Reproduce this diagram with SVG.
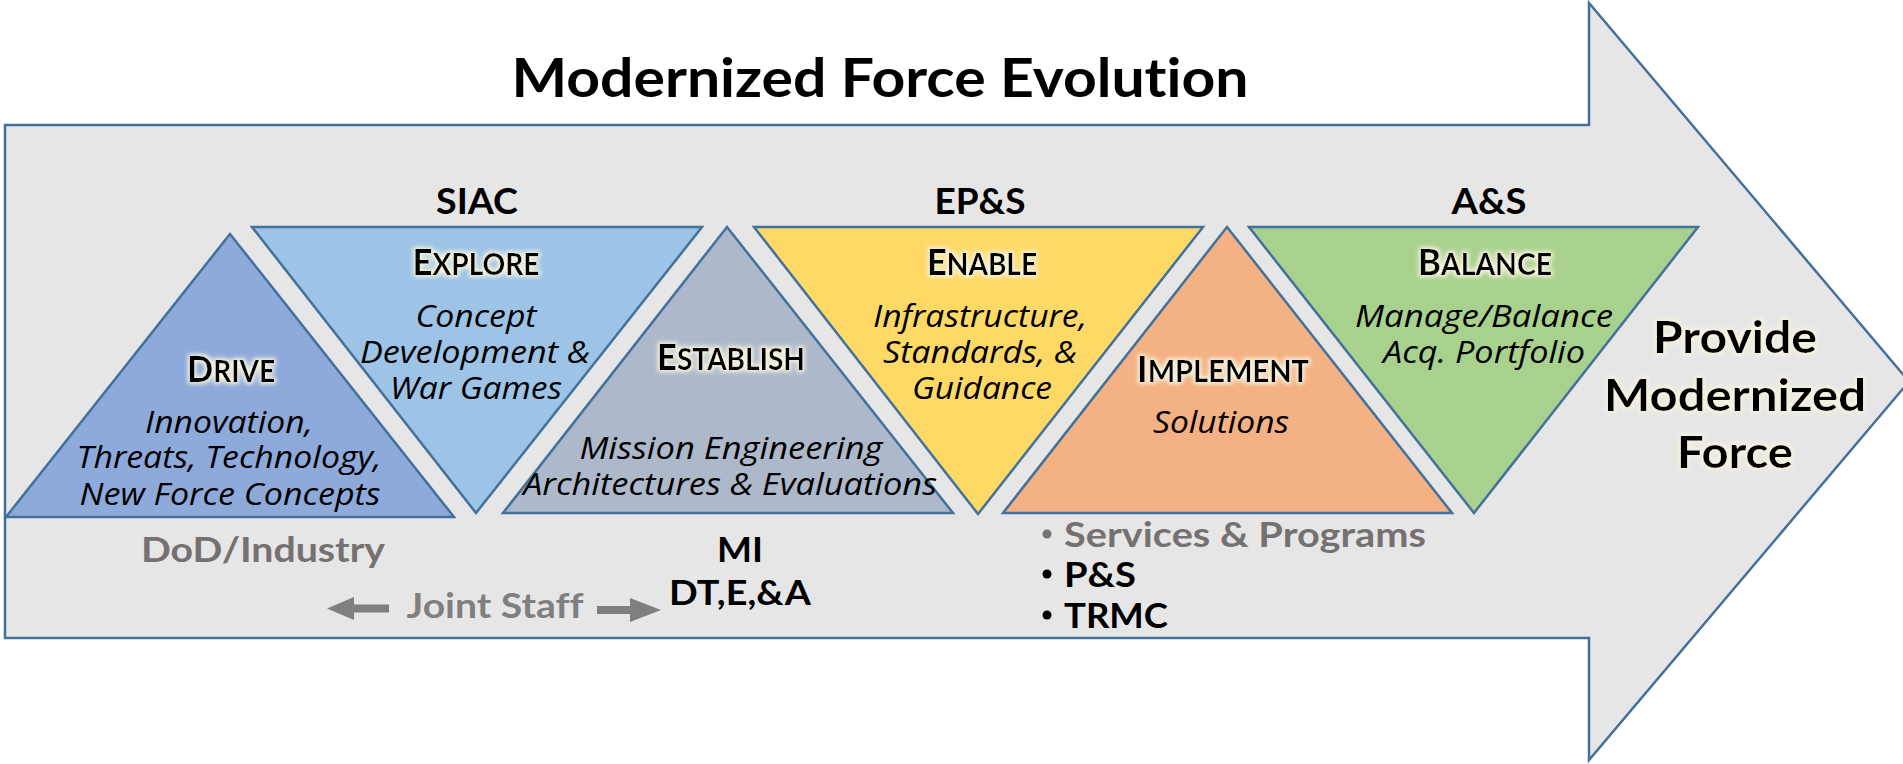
<svg xmlns="http://www.w3.org/2000/svg" width="1903" height="764" viewBox="0 0 1903 764">
<defs>
<style>
text{font-variant-ligatures:none}
.shape{stroke:#41719C;stroke-width:2.5;stroke-linejoin:miter}
.b{font-family:Lato,"Open Sans","Liberation Sans",sans-serif;font-weight:bold;text-anchor:middle}
.hd{font-family:Lato,"Open Sans","Liberation Sans",sans-serif;font-weight:bold;text-anchor:middle;fill:#000}
.it{font-family:"Open Sans",Lato,"Liberation Sans",sans-serif;font-style:italic;font-size:31px;text-anchor:middle;fill:#000}
.gray{fill:#767171}
</style>
<filter id="glow" x="-20%" y="-50%" width="140%" height="200%">
<feMorphology in="SourceAlpha" operator="dilate" radius="2" result="d"/>
<feGaussianBlur in="d" stdDeviation="2.2" result="bl"/>
<feFlood flood-color="#f6f3de"/>
<feComposite in2="bl" operator="in" result="g"/>
<feMerge><feMergeNode in="g"/><feMergeNode in="SourceGraphic"/></feMerge>
</filter>
</defs>
<rect width="1903" height="764" fill="#fff"/>
<g id="big-arrow">
<path class="shape" fill="#e7e6e6" d="M5,125 L1589,125 L1589,3 L1909,381.5 L1589,760 L1589,638 L5,638 Z"/>
</g>
<text class="b" x="880" y="97" font-size="53" textLength="737" lengthAdjust="spacingAndGlyphs">Modernized Force Evolution</text>
<text class="b" x="477" y="214" font-size="36" textLength="82" lengthAdjust="spacingAndGlyphs">SIAC</text>
<text class="b" x="980" y="214" font-size="36" textLength="91" lengthAdjust="spacingAndGlyphs">EP&amp;S</text>
<text class="b" x="1489" y="214" font-size="36" textLength="75" lengthAdjust="spacingAndGlyphs">A&amp;S</text>

<g id="drive">
<polygon class="shape" fill="#8EAADB" points="230,234 454,517 6,517"/>
<text class="hd" x="231" y="382" filter="url(#glow)" textLength="88" lengthAdjust="spacingAndGlyphs"><tspan font-size="37">D</tspan><tspan font-size="30">RIVE</tspan></text>
<text class="it" x="229" y="433" textLength="168" lengthAdjust="spacingAndGlyphs">Innovation,</text>
<text class="it" x="229" y="468" textLength="305" lengthAdjust="spacingAndGlyphs">Threats, Technology,</text>
<text class="it" x="230" y="505" textLength="301" lengthAdjust="spacingAndGlyphs">New Force Concepts</text>
</g>

<g id="explore">
<polygon class="shape" fill="#9DC3E6" points="252,227 702,227 476,513"/>
<text class="hd" x="476" y="275" filter="url(#glow)" textLength="127" lengthAdjust="spacingAndGlyphs"><tspan font-size="37">E</tspan><tspan font-size="30">XPLORE</tspan></text>
<text class="it" x="476" y="327" textLength="121" lengthAdjust="spacingAndGlyphs">Concept</text>
<text class="it" x="475" y="363" textLength="230" lengthAdjust="spacingAndGlyphs">Development &amp;</text>
<text class="it" x="476" y="399" textLength="172" lengthAdjust="spacingAndGlyphs">War Games</text>
</g>

<g id="establish">
<polygon class="shape" fill="#ADB9CA" points="727,227 953,513 503,513"/>
<text class="hd" x="731" y="370" filter="url(#glow)" textLength="148" lengthAdjust="spacingAndGlyphs"><tspan font-size="37">E</tspan><tspan font-size="30">STABLISH</tspan></text>
<text class="it" x="731" y="459" textLength="303" lengthAdjust="spacingAndGlyphs">Mission Engineering</text>
<text class="it" x="730" y="495" textLength="414" lengthAdjust="spacingAndGlyphs">Architectures &amp; Evaluations</text>
</g>

<g id="enable">
<polygon class="shape" fill="#FFD966" points="754,227 1203,227 978,514"/>
<text class="hd" x="982" y="275" filter="url(#glow)" textLength="110" lengthAdjust="spacingAndGlyphs"><tspan font-size="37">E</tspan><tspan font-size="30">NABLE</tspan></text>
<text class="it" x="980" y="327" textLength="214" lengthAdjust="spacingAndGlyphs">Infrastructure,</text>
<text class="it" x="980" y="363" textLength="194" lengthAdjust="spacingAndGlyphs">Standards, &amp;</text>
<text class="it" x="982" y="399" textLength="140" lengthAdjust="spacingAndGlyphs">Guidance</text>
</g>

<g id="implement">
<polygon class="shape" fill="#F4B183" points="1227,227 1452,513 1003,513"/>
<text class="hd" x="1223" y="382" filter="url(#glow)" textLength="172" lengthAdjust="spacingAndGlyphs"><tspan font-size="37">I</tspan><tspan font-size="30">MPLEMENT</tspan></text>
<text class="it" x="1221" y="433" textLength="136" lengthAdjust="spacingAndGlyphs">Solutions</text>
</g>

<g id="balance">
<polygon class="shape" fill="#A9D18E" points="1249,227 1698,227 1474,513"/>
<text class="hd" x="1485" y="275" filter="url(#glow)" textLength="134" lengthAdjust="spacingAndGlyphs"><tspan font-size="37">B</tspan><tspan font-size="30">ALANCE</tspan></text>
<text class="it" x="1484" y="327" textLength="258" lengthAdjust="spacingAndGlyphs">Manage/Balance</text>
<text class="it" x="1484" y="363" textLength="202" lengthAdjust="spacingAndGlyphs">Acq. Portfolio</text>
</g>

<g id="provide" filter="url(#glow)">
<text class="b" x="1735" y="353" font-size="43" textLength="164" lengthAdjust="spacingAndGlyphs">Provide</text>
<text class="b" x="1735" y="411" font-size="43" textLength="262" lengthAdjust="spacingAndGlyphs">Modernized</text>
<text class="b" x="1735" y="468" font-size="43" textLength="116" lengthAdjust="spacingAndGlyphs">Force</text>
</g>

<g id="dod-industry">
<text class="b gray" x="263" y="562" font-size="34" textLength="244" lengthAdjust="spacingAndGlyphs">DoD/Industry</text>
</g>

<g id="mi-dtea">
<text class="b" x="740" y="562" font-size="35" textLength="46" lengthAdjust="spacingAndGlyphs">MI</text>
<text class="b" x="740" y="605" font-size="35" textLength="142" lengthAdjust="spacingAndGlyphs">DT,E,&amp;A</text>
</g>

<g id="joint-staff">
<text class="b" x="495" y="618" font-size="35" fill="#7f7f7f" textLength="177" lengthAdjust="spacingAndGlyphs">Joint Staff</text>
</g>

<g id="connectors" fill="#7f7f7f">
<polygon points="327,608.5 354,597 354,604.5 389,604.5 389,612.5 354,612.5 354,620"/>
<polygon points="661,610 630,598 630,606 597,606 597,614 630,614 630,622"/>
</g>

<g id="services">
<circle cx="1047" cy="534" r="4.5" fill="#767171"/>
<text class="b gray" x="1064" y="547" font-size="35" style="text-anchor:start" textLength="362" lengthAdjust="spacingAndGlyphs">Services &amp; Programs</text>
<circle cx="1047" cy="574" r="4.5" fill="#000"/>
<text class="b" x="1064" y="587" font-size="35" style="text-anchor:start" textLength="72" lengthAdjust="spacingAndGlyphs">P&amp;S</text>
<circle cx="1047" cy="615" r="4.5" fill="#000"/>
<text class="b" x="1064" y="628" font-size="35" style="text-anchor:start" textLength="104" lengthAdjust="spacingAndGlyphs">TRMC</text>
</g>
</svg>
